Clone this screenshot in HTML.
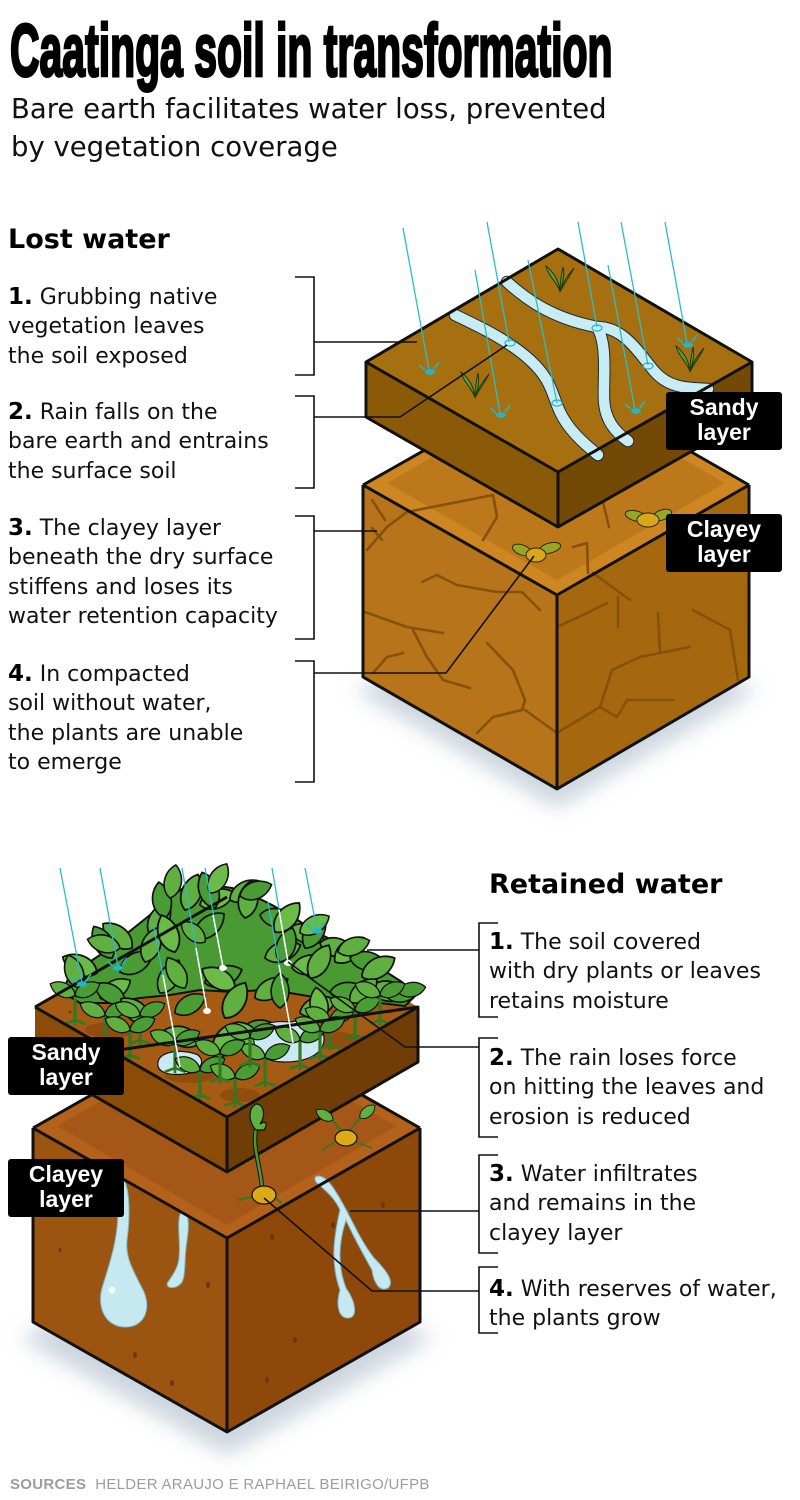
<!DOCTYPE html>
<html><head><meta charset="utf-8">
<style>
html,body{margin:0;padding:0;background:#fff;}
body{width:800px;height:1500px;position:relative;overflow:hidden;font-family:"DejaVu Sans","Liberation Sans",sans-serif;color:#111;}
svg{position:absolute;left:0;top:0;}
.t{position:absolute;white-space:nowrap;}
#title{left:10px;top:14px;font-family:"Liberation Sans",sans-serif;font-weight:bold;font-size:74px;line-height:74px;transform:scaleX(0.553);transform-origin:0 0;-webkit-text-stroke:3px #000;color:#000;}
.sub{left:11px;top:90px;font-size:27.5px;line-height:38px;color:#111;}
.h{font-weight:bold;font-size:27px;line-height:32px;color:#000;}
.it{font-size:22px;line-height:29.3px;color:#111;}
.it b{font-size:23px;color:#000;}
.lab{position:absolute;background:#000;color:#fff;font-family:"Liberation Sans",sans-serif;font-weight:bold;font-size:23px;line-height:25px;text-align:center;border-radius:3px;box-sizing:border-box;padding-top:3px;}
.src{left:10px;top:1476px;font-family:"Liberation Sans",sans-serif;font-size:15px;line-height:18px;color:#9d9d9d;letter-spacing:0.3px;}
</style></head><body>
<svg width="800" height="1500" viewBox="0 0 800 1500">
<defs>
<filter id="bl" x="-30%" y="-30%" width="160%" height="160%"><feGaussianBlur stdDeviation="11"/></filter>
<path id="lf" d="M0,0 C5,-9 20,-10 28,0 C20,10 5,9 0,0Z" stroke="#111" stroke-width="1.3"/>
<g id="sp"><path d="M0,0 L0,-20" stroke="#2f7a22" stroke-width="2.5" fill="none"/><path d="M-8,3 L0,0 L8,3 M0,0 L0,4" stroke="#2f7a22" stroke-width="2" fill="none"/><use href="#lf" fill="#5fb040" transform="translate(0,-19) rotate(-155) scale(.75)"/><use href="#lf" fill="#4a9c35" transform="translate(0,-19) rotate(-25) scale(.75)"/></g>
<g id="spl"><ellipse rx="5" ry="2.8" fill="#25b5c5"/><path d="M-11,-7 L-5,-2 M9,-10 L4,-3" stroke="#25b5c5" stroke-width="1.6"/></g>
<g id="sprA"><path d="M0,0 C-2,-9 -12,-16 -14,-26 C-4,-18 -1,-9 0,0Z M0,0 C2,-9 9,-18 14,-24 C9,-14 3,-7 0,0Z M0,0 C0,-9 1,-16 3,-25 C5,-16 2,-7 0,0Z" fill="#5e9e2e" stroke="#1d3a0c" stroke-width="1"/></g>
</defs>

<!-- ===== TOP CUBE (Lost water) ===== -->
<polygon points="355,690 557,808 757,690 557,598" fill="#a9b8c8" opacity=".6" filter="url(#bl)"/>
<polygon points="363,485 557,595 557,789 363,677" fill="#b8741a"/>
<polygon points="557,595 749,485 749,677 557,789" fill="#a6680f"/>
<polygon points="363,485 557,375 749,485 557,595" fill="#cd8622"/>
<polygon points="387,483 557,386 725,483 557,580" fill="#bd781b"/>
<g stroke="#86510b" stroke-width="2.6" fill="none" stroke-linejoin="round" stroke-linecap="round">
<path d="M367,550 L387,527 L407,512 L493,495 L497,517 L483,540"/>
<path d="M573,547 L587,543 L588,573 M603,502 L609,527"/>
<path d="M422,582 L437,575 L457,585 L497,592 L522,592 L540,610"/>
<path d="M365,612 L407,627 L443,633"/>
<path d="M373,673 L387,657 L403,653"/>
<path d="M413,630 L427,657 L443,680 L470,688"/>
<path d="M487,643 L513,670 L525,700 L522,710 L493,717 L477,733 M525,710 L557,733"/>
<path d="M557,627 L587,613 L607,603 M593,573 L630,600 M618,597 L618,627"/>
<path d="M690,647 L640,657 L612,670 L600,707 L557,733 M658,613 L660,653"/>
<path d="M600,707 L617,717 L627,700 L673,700 M693,610 L730,630 L738,680"/>
<path d="M372,500 L385,520 M372,528 L382,540"/>
</g>
<path d="M363,485 L557,595 L749,485 M557,595 L557,789 M363,485 L363,677 L557,789 L749,677 L749,485 M363,485 L557,375 L749,485" stroke="#111" stroke-width="3" fill="none" stroke-linejoin="round"/>
<g stroke="#2a2a05" stroke-width="1">
<ellipse cx="522" cy="550" rx="10" ry="5" fill="#9aa526" transform="rotate(20 522 550)"/>
<ellipse cx="550" cy="548" rx="11" ry="5" fill="#9aa526" transform="rotate(-15 550 548)"/>
<ellipse cx="536" cy="555" rx="10" ry="7" fill="#d9a81a"/>
<ellipse cx="636" cy="516" rx="11" ry="5" fill="#9aa526" transform="rotate(15 636 516)"/>
<ellipse cx="662" cy="515" rx="10" ry="5" fill="#9aa526" transform="rotate(-20 662 515)"/>
<ellipse cx="648" cy="520" rx="11" ry="7" fill="#d9a81a"/>
</g>
<!-- slab -->
<polygon points="366,362 558,472 558,527 366,417" fill="#8b5a08"/>
<polygon points="558,472 752,362 752,417 558,527" fill="#744906"/>
<polygon points="366,362 558,249 752,362 558,472" fill="#a66f0f"/>
<!-- streams -->
<g fill="none" stroke-linecap="round" stroke-linejoin="round">
<g stroke="#1a2a30" stroke-width="12.5">
<path d="M455,315 C480,327 508,340 530,360 S552,395 560,412 S582,442 598,455"/>
<path d="M507,282 C525,298 550,318 597,327"/>
<path d="M597,327 C608,345 603,380 604,400 S615,432 628,441"/>
<path d="M597,327 C625,327 640,355 655,372 S690,388 708,389"/>
</g>
<g stroke="#c8ecf3" stroke-width="10.5">
<path d="M455,315 C480,327 508,340 530,360 S552,395 560,412 S582,442 598,455"/>
<path d="M507,282 C525,298 550,318 597,327"/>
<path d="M597,327 C608,345 603,380 604,400 S615,432 628,441"/>
<path d="M597,327 C625,327 640,355 655,372 S690,388 708,389"/>
</g>
</g>
<path d="M366,362 L558,249 L752,362 L752,417 L558,527 L366,417 Z M366,362 L558,472 L752,362 M558,472 L558,527" stroke="#111" stroke-width="3" fill="none" stroke-linejoin="round"/>
<use href="#sprA" x="560" y="292"/>
<use href="#sprA" x="475" y="398"/>
<use href="#sprA" x="690" y="372"/>
<!-- rain A -->
<g stroke="#2bbccb" stroke-width="1.3">
<line x1="403" y1="228" x2="429" y2="370"/>
<line x1="475" y1="270" x2="500" y2="413"/>
<line x1="487" y1="222" x2="509" y2="342"/>
<line x1="528" y1="260" x2="557" y2="403"/>
<line x1="578" y1="222" x2="597" y2="327"/>
<line x1="608" y1="265" x2="635" y2="410"/>
<line x1="621" y1="222" x2="648" y2="365"/>
<line x1="665" y1="222" x2="687" y2="343"/>
</g>
<use href="#spl" x="430" y="372"/>
<use href="#spl" x="501" y="415"/>
<use href="#spl" x="636" y="411"/>
<use href="#spl" x="688" y="345"/>
<g fill="none" stroke="#25b5c5" stroke-width="1.2">
<ellipse cx="510" cy="343" rx="5" ry="3"/><ellipse cx="557" cy="403" rx="5" ry="3"/><ellipse cx="597" cy="328" rx="5" ry="3"/><ellipse cx="648" cy="366" rx="5" ry="3"/>
</g>
<!-- leaders A -->
<g stroke="#111" stroke-width="1.6" fill="none">
<path d="M295,277 H314 V375 H295 M314,342 H417"/>
<path d="M295,396 H314 V488 H295 M314,417 H400 L507,345"/>
<path d="M295,516 H314 V639 H295 M314,531 H377"/>
<path d="M295,661 H314 V782 H295 M314,673 H446 L534,556"/>
</g>

<!-- ===== BOTTOM CUBE (Retained water) ===== -->
<polygon points="20,1338 227,1455 433,1338 227,1230" fill="#a9b8c8" opacity=".6" filter="url(#bl)"/>
<polygon points="33,1128 227,1238 227,1432 33,1322" fill="#9c5411"/>
<polygon points="227,1238 420,1128 420,1322 227,1432" fill="#8d480a"/>
<polygon points="33,1128 227,1018 420,1128 227,1238" fill="#b4621b"/>
<polygon points="57,1126 227,1029 396,1126 227,1225" fill="#a45716"/>
<g fill="#6e3506">
<ellipse cx="135" cy="1355" rx="2" ry="3"/><ellipse cx="172" cy="1383" rx="2" ry="3"/><ellipse cx="208" cy="1285" rx="2" ry="3"/><ellipse cx="272" cy="1237" rx="2" ry="3"/><ellipse cx="295" cy="1340" rx="2" ry="3"/><ellipse cx="383" cy="1205" rx="2" ry="3"/><ellipse cx="333" cy="1225" rx="2" ry="3"/><ellipse cx="267" cy="1380" rx="2" ry="3"/><ellipse cx="60" cy="1250" rx="1.5" ry="2"/><ellipse cx="90" cy="1200" rx="1.5" ry="2"/>
</g>
<g fill="#c6e8f0" stroke="#7fbccc" stroke-width="1">
<path d="M121,1176 C129,1182 131,1210 127,1240 C125,1258 134,1272 144,1292 C152,1312 142,1328 124,1327 C104,1326 96,1305 103,1285 C110,1262 118,1240 118,1210 C118,1195 115,1182 121,1176Z"/>
<path d="M181,1212 C188,1212 190,1220 187,1240 C184,1258 186,1274 182,1282 C178,1288 168,1290 167,1284 C170,1278 178,1270 179,1258 C181,1240 176,1222 181,1212Z"/>
<path d="M318,1176 C326,1176 333,1186 343,1204 C352,1220 360,1240 374,1258 C386,1270 395,1282 388,1288 C380,1292 374,1284 372,1270 C362,1252 352,1234 346,1220 C340,1238 336,1262 346,1288 C356,1302 358,1318 348,1318 C338,1318 336,1304 340,1290 C330,1262 334,1236 340,1210 C334,1196 322,1188 316,1182 C314,1179 315,1176 318,1176Z"/>
</g>
<circle cx="112" cy="1290" r="3.5" fill="#fff" opacity=".8"/>
<path d="M33,1128 L227,1238 L420,1128 M227,1238 L227,1432 M33,1128 L33,1322 L227,1432 L420,1322 L420,1128 M33,1128 L227,1018 L420,1128" stroke="#111" stroke-width="3" fill="none" stroke-linejoin="round"/>
<!-- slab B -->
<polygon points="35,1007 227,897 227,1117 35,1062" fill="#8a4c07"/>
<polygon points="35,1007 227,1117 227,1172 35,1062" fill="#8a4c07"/>
<polygon points="227,1117 418,1007 418,1062 227,1172" fill="#6f3d05"/>
<polygon points="35,1007 227,897 418,1007 227,1117" fill="#a55b13"/>
<g fill="#7c3f08"><circle cx="70" cy="1012" r="1.5"/><circle cx="120" cy="1040" r="1.5"/><circle cx="300" cy="1080" r="1.5"/><circle cx="390" cy="1012" r="1.5"/><circle cx="160" cy="1060" r="1.5"/></g>
<g fill="#8a470a" opacity=".7">
<ellipse cx="110" cy="1030" rx="25" ry="8"/><ellipse cx="190" cy="1075" rx="25" ry="8"/><ellipse cx="330" cy="1040" rx="28" ry="9"/><ellipse cx="240" cy="1095" rx="20" ry="7"/>
</g>
<!-- back puddles -->
<g fill="#cbe9f1" stroke="#111" stroke-width="1.2">
<path d="M212,945 C210,932 235,928 255,932 C272,936 276,950 262,957 C245,963 215,960 212,945Z"/>
<path d="M82,989 C82,983 95,981 103,985 C108,989 100,993 90,993 C84,993 82,991 82,989Z"/>
</g>
<!-- base mass -->
<path d="M62,992 L70,975 L100,955 L125,935 L150,915 L165,900 L182,889 L205,884 L232,888 L252,895 L272,905 L292,916 L312,930 L332,940 L356,955 L380,968 L402,982 L416,995 L405,1006 L380,1003 L350,1002 L320,998 L290,993 L262,990 L232,992 L200,990 L170,995 L140,998 L110,1003 L80,1003 Z" fill="#4a9a33" stroke="#111" stroke-width="2" stroke-linejoin="round"/>
<!-- dense leaves -->
<g>
<use href="#lf" fill="#5fb040" transform="translate(150,935) rotate(-60) scale(1.35)"/>
<use href="#lf" fill="#4a9c35" transform="translate(165,918) rotate(-100) scale(1.3)"/>
<use href="#lf" fill="#5fb040" transform="translate(185,910) rotate(-70) scale(1.35)"/>
<use href="#lf" fill="#6bbb48" transform="translate(200,905) rotate(-20) scale(1.3)"/>
<use href="#lf" fill="#4a9c35" transform="translate(215,908) rotate(-110) scale(1.35)"/>
<use href="#lf" fill="#5fb040" transform="translate(230,900) rotate(-30) scale(1.3)"/>
<use href="#lf" fill="#5fb040" transform="translate(245,918) rotate(-80) scale(1.35)"/>
<use href="#lf" fill="#4a9c35" transform="translate(260,915) rotate(10) scale(1.3)"/>
<use href="#lf" fill="#6bbb48" transform="translate(275,932) rotate(-50) scale(1.35)"/>
<use href="#lf" fill="#5fb040" transform="translate(290,928) rotate(20) scale(1.3)"/>
<use href="#lf" fill="#4a9c35" transform="translate(305,948) rotate(-60) scale(1.35)"/>
<use href="#lf" fill="#5fb040" transform="translate(320,943) rotate(15) scale(1.3)"/>
<use href="#lf" fill="#6bbb48" transform="translate(335,962) rotate(-40) scale(1.35)"/>
<use href="#lf" fill="#4a9c35" transform="translate(350,958) rotate(10) scale(1.3)"/>
<use href="#lf" fill="#5fb040" transform="translate(362,977) rotate(-30) scale(1.35)"/>
<use href="#lf" fill="#5fb040" transform="translate(370,988) rotate(10) scale(1.4)"/>
<use href="#lf" fill="#4a9c35" transform="translate(385,995) rotate(-5) scale(1.2)"/>
<use href="#lf" fill="#5fb040" transform="translate(132,948) rotate(-140) scale(1.35)"/>
<use href="#lf" fill="#4a9c35" transform="translate(112,958) rotate(-120) scale(1.3)"/>
<use href="#lf" fill="#6bbb48" transform="translate(97,973) rotate(-155) scale(1.35)"/>
<use href="#lf" fill="#5fb040" transform="translate(80,988) rotate(-110) scale(1.25)"/>
<use href="#lf" fill="#4a9c35" transform="translate(120,972) rotate(-30) scale(1.35)"/>
<use href="#lf" fill="#5fb040" transform="translate(145,962) rotate(-70) scale(1.3)"/>
<use href="#lf" fill="#6bbb48" transform="translate(175,952) rotate(-110) scale(1.4)"/>
<use href="#lf" fill="#4a9c35" transform="translate(195,938) rotate(-40) scale(1.35)"/>
<use href="#lf" fill="#5fb040" transform="translate(205,942) rotate(-140) scale(1.1)"/>
<use href="#lf" fill="#5fb040" transform="translate(265,958) rotate(-20) scale(1.35)"/>
<use href="#lf" fill="#4a9c35" transform="translate(280,962) rotate(-70) scale(1.3)"/>
<use href="#lf" fill="#6bbb48" transform="translate(292,968) rotate(-10) scale(1.35)"/>
<use href="#lf" fill="#5fb040" transform="translate(310,978) rotate(-60) scale(1.35)"/>
<use href="#lf" fill="#4a9c35" transform="translate(330,992) rotate(0) scale(1.35)"/>
<use href="#lf" fill="#5fb040" transform="translate(350,1002) rotate(-40) scale(1.25)"/>
<use href="#lf" fill="#6bbb48" transform="translate(100,998) rotate(-30) scale(1.25)"/>
<use href="#lf" fill="#4a9c35" transform="translate(125,1002) rotate(-150) scale(1.25)"/>
<use href="#lf" fill="#5fb040" transform="translate(160,993) rotate(-60) scale(1.35)"/>
<use href="#lf" fill="#5fb040" transform="translate(185,988) rotate(-120) scale(1.25)"/>
<use href="#lf" fill="#4a9c35" transform="translate(205,983) rotate(-20) scale(1.4)"/>
<use href="#lf" fill="#6bbb48" transform="translate(235,988) rotate(-150) scale(1.35)"/>
<use href="#lf" fill="#5fb040" transform="translate(255,998) rotate(-30) scale(1.35)"/>
<use href="#lf" fill="#4a9c35" transform="translate(280,1008) rotate(-90) scale(1.25)"/>
<use href="#lf" fill="#5fb040" transform="translate(300,1013) rotate(-20) scale(1.35)"/>
<use href="#lf" fill="#6bbb48" transform="translate(322,1022) rotate(-100) scale(1.25)"/>
<use href="#lf" fill="#5fb040" transform="translate(225,1018) rotate(-60) scale(1.45)"/>
<use href="#lf" fill="#4a9c35" transform="translate(240,1033) rotate(-10) scale(1.35)"/>
<use href="#lf" fill="#5fb040" transform="translate(200,1043) rotate(-160) scale(1.35)"/>
<use href="#lf" fill="#6bbb48" transform="translate(215,1058) rotate(-60) scale(1.45)"/>
<use href="#lf" fill="#4a9c35" transform="translate(175,1013) rotate(-30) scale(1.25)"/>
<use href="#lf" fill="#5fb040" transform="translate(150,1023) rotate(-140) scale(1.35)"/>
<use href="#lf" fill="#5fb040" transform="translate(170,898) rotate(-80) scale(1.2)"/>
<use href="#lf" fill="#6bbb48" transform="translate(210,893) rotate(-60) scale(1.2)"/>
<use href="#lf" fill="#4a9c35" transform="translate(240,896) rotate(-20) scale(1.2)"/>
<use href="#lf" fill="#5fb040" transform="translate(120,948) rotate(-165) scale(1.2)"/>
<use href="#lf" fill="#6bbb48" transform="translate(300,933) rotate(-30) scale(1.2)"/>
<use href="#lf" fill="#5fb040" transform="translate(338,952) rotate(-20) scale(1.2)"/>
<use href="#lf" fill="#4a9c35" transform="translate(398,992) rotate(-10) scale(1.0)"/>
<use href="#lf" fill="#6bbb48" transform="translate(260,1050) rotate(-130) scale(1.3)"/>
<use href="#lf" fill="#5fb040" transform="translate(270,1055) rotate(-30) scale(1.2)"/>
</g>
<!-- front puddles -->
<g fill="#cbe9f1" stroke="#111" stroke-width="1.2">
<path d="M158,1062 C160,1050 185,1049 198,1055 C206,1062 200,1072 185,1074 C168,1076 156,1072 158,1062Z"/>
<path d="M254,1042 C250,1025 270,1020 290,1022 C308,1018 325,1024 324,1040 C323,1055 305,1062 285,1062 C265,1062 256,1054 254,1042Z"/>
</g>
<!-- front sprouts -->
<g transform="translate(0,0)">
<use href="#sp" transform="translate(75,1020) scale(1.3)"/><use href="#sp" transform="translate(105,1040) scale(1.3)"/><use href="#sp" transform="translate(140,1040) scale(1.3)"/>
<use href="#sp" transform="translate(130,1055) scale(1.3)"/><use href="#sp" transform="translate(175,1068) scale(1.3)"/><use href="#sp" transform="translate(200,1095) scale(1.3)"/>
<use href="#sp" transform="translate(235,1102) scale(1.3)"/><use href="#sp" transform="translate(265,1082) scale(1.3)"/><use href="#sp" transform="translate(300,1065) scale(1.3)"/>
<use href="#sp" transform="translate(330,1045) scale(1.3)"/><use href="#sp" transform="translate(355,1035) scale(1.3)"/><use href="#sp" transform="translate(380,1020) scale(1.3)"/>
<use href="#sp" transform="translate(320,1055) scale(1.3)"/><use href="#sp" transform="translate(250,1062) scale(1.3)"/><use href="#sp" transform="translate(220,1078) scale(1.3)"/>
</g>
<path d="M35,1007 L227,897 M418,1007 L418,1062 L227,1172 L35,1062 Z M35,1007 L227,1117 L418,1007 M227,1117 L227,1172" stroke="#111" stroke-width="3" fill="none" stroke-linejoin="round"/>
<!-- seedlings on clay B -->
<path d="M262,1190 C262,1170 252,1150 256,1128" stroke="#111" stroke-width="4.5" fill="none"/>
<path d="M262,1190 C262,1170 252,1150 256,1128" stroke="#4a9a30" stroke-width="2.5" fill="none"/>
<path d="M256,1130 C248,1122 248,1108 256,1104 C264,1104 266,1116 260,1124 C266,1120 268,1124 264,1130Z" fill="#5fb040" stroke="#111" stroke-width="1.2"/>
<path d="M255,1196 L238,1200 M272,1196 L282,1203" stroke="#2f7a22" stroke-width="2"/>
<ellipse cx="264" cy="1195" rx="12" ry="9" fill="#dcaa14" stroke="#111" stroke-width="1.2"/>
<path d="M345,1135 L332,1120 M348,1132 L360,1118" stroke="#2f7a22" stroke-width="2"/>
<use href="#lf" fill="#5fb040" transform="translate(333,1120) rotate(-150) scale(.7)"/>
<use href="#lf" fill="#5fb040" transform="translate(360,1118) rotate(-40) scale(.7)"/>
<path d="M335,1142 L322,1150 M356,1142 L372,1148" stroke="#2f7a22" stroke-width="1.6"/>
<ellipse cx="346" cy="1138" rx="11" ry="8" fill="#dcaa14" stroke="#111" stroke-width="1.2"/>
<!-- rain B -->
<g stroke="#2bbccb" stroke-width="1.3">
<line x1="60" y1="868" x2="82" y2="983"/>
<line x1="100" y1="868" x2="118" y2="967"/>
<line x1="182" y1="868" x2="207" y2="1010"/>
<line x1="205" y1="868" x2="223" y2="967"/>
<line x1="272" y1="868" x2="288" y2="962"/>
<line x1="305" y1="868" x2="317" y2="930"/>
<line x1="153" y1="923" x2="180" y2="1067"/>
<line x1="268" y1="902" x2="293" y2="1043"/>
</g>
<g stroke="#ffffff" stroke-width="1.5">
<line x1="196" y1="948" x2="207" y2="1010"/>
<line x1="163" y1="975" x2="180" y2="1067"/>
<line x1="279" y1="965" x2="293" y2="1043"/>
<line x1="213" y1="915" x2="223" y2="967"/>
<line x1="279" y1="910" x2="288" y2="962"/>
</g>
<use href="#spl" x="82" y="984"/>
<use href="#spl" x="118" y="968"/>
<use href="#spl" x="317" y="931"/>
<ellipse cx="223" cy="968" rx="4" ry="3" fill="#fff"/>
<ellipse cx="288" cy="963" rx="4" ry="3" fill="#fff"/>
<ellipse cx="207" cy="1011" rx="4" ry="3" fill="#fff"/>
<!-- leaders B -->
<g stroke="#111" stroke-width="1.6" fill="none">
<path d="M498,923 H479 V1017 H498 M479,950 H367"/>
<path d="M498,1038 H479 V1137 H498 M479,1047 H405 L288,962"/>
<path d="M498,1155 H479 V1253 H498 M479,1211 H350"/>
<path d="M498,1267 H479 V1333 H498 M479,1291 H372 L264,1198"/>
</g>
</svg>

<div class="t" id="title">Caatinga soil in transformation</div>
<div class="t sub">Bare earth facilitates water loss, prevented<br>by vegetation coverage</div>

<div class="t h" style="left:8px;top:224px;">Lost water</div>
<div class="t it" style="left:8px;top:283px;"><b>1.</b> Grubbing native<br>vegetation leaves<br>the soil exposed</div>
<div class="t it" style="left:8px;top:398px;"><b>2.</b> Rain falls on the<br>bare earth and entrains<br>the surface soil</div>
<div class="t it" style="left:8px;top:514px;"><b>3.</b> The clayey layer<br>beneath the dry surface<br>stiffens and loses its<br>water retention capacity</div>
<div class="t it" style="left:8px;top:660px;"><b>4.</b> In compacted<br>soil without water,<br>the plants are unable<br>to emerge</div>

<div class="lab" style="left:666px;top:392px;width:116px;height:58px;">Sandy<br>layer</div>
<div class="lab" style="left:666px;top:514px;width:116px;height:58px;">Clayey<br>layer</div>

<div class="t h" style="left:489px;top:869px;">Retained water</div>
<div class="t it" style="left:489px;top:928px;"><b>1.</b> The soil covered<br>with dry plants or leaves<br>retains moisture</div>
<div class="t it" style="left:489px;top:1044px;"><b>2.</b> The rain loses force<br>on hitting the leaves and<br>erosion is reduced</div>
<div class="t it" style="left:489px;top:1160px;"><b>3.</b> Water infiltrates<br>and remains in the<br>clayey layer</div>
<div class="t it" style="left:489px;top:1275px;"><b>4.</b> With reserves of water,<br>the plants grow</div>

<div class="lab" style="left:8px;top:1037px;width:116px;height:58px;">Sandy<br>layer</div>
<div class="lab" style="left:8px;top:1159px;width:116px;height:58px;">Clayey<br>layer</div>

<div class="t src"><b>SOURCES</b>&nbsp; HELDER ARAUJO E RAPHAEL BEIRIGO/UFPB</div>
</body></html>
